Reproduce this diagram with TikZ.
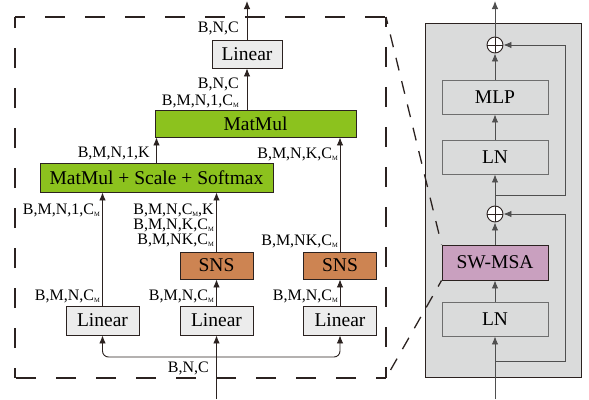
\documentclass[tikz,border=0pt]{standalone}
\usepackage{fontspec}
\setmainfont{Liberation Serif}
\usetikzlibrary{arrows.meta}
\usetikzlibrary{positioning}
\definecolor{BoxGray}{HTML}{ECECEC}
\definecolor{PanelGray}{HTML}{DADBDB}
\definecolor{LeafGreen}{HTML}{8CC21E}
\definecolor{ClayOrange}{HTML}{CD8452}
\definecolor{MauvePink}{HTML}{C9A0BF}
\definecolor{InkDark}{HTML}{2B2220}
\definecolor{LineGray}{HTML}{4F4F4F}
\definecolor{EdgeGray}{HTML}{6E6E6E}
% small subscript M on the channel size
\newcommand{\Cm}{C\raisebox{-0.3ex}{\fontsize{6.5}{6.5}\selectfont M}}

\begin{document}
\begin{tikzpicture}[x=1pt,y=-1pt,
    box/.style={draw=InkDark,line width=0.9pt,inner sep=0pt,
      font=\fontsize{19.5}{20}\selectfont},
    linbox/.style={box,fill=BoxGray,minimum width=73pt,minimum height=29pt},
    snsbox/.style={box,fill=ClayOrange,minimum width=73pt,minimum height=27pt},
    greenbox/.style={box,fill=LeafGreen},
    blockbox/.style={box,draw=EdgeGray,fill=PanelGray,minimum width=106pt,minimum height=34pt},
    dim/.style={font=\fontsize{16}{16}\selectfont,inner sep=0pt,anchor=east},
    flow/.style={draw=InkDark,line width=0.9pt,-{Latex[length=8pt,width=6.5pt]}},
    flowg/.style={flow,draw=LineGray},
    plus/.style={circle,draw=InkDark,fill=white,line width=0.9pt,minimum size=16pt,inner sep=0pt,
      path picture={\draw[line width=0.9pt]
        (path picture bounding box.north) -- (path picture bounding box.south)
        (path picture bounding box.west) -- (path picture bounding box.east);}},
  ]
  \useasboundingbox (0,0) rectangle (589,399);

  % ---- attention detail (left) ----
  \coordinate (ZoomTop) at (386,17);
  \coordinate (ZoomBot) at (386,378);
  \begin{scope}[InkDark,line width=1.4pt,dash pattern=on 20pt off 20pt,dash phase=10pt]
    \draw (15,17) -- (ZoomTop);
    \draw (ZoomTop) -- (ZoomBot);
    \draw (ZoomBot) -- (15,378);
    \draw (15,378) -- (15,17);
  \end{scope}

  \node[linbox] (LinQ) at (102.5,320.5) {Linear};
  \node[linbox] (LinK) at (216.5,320.5) {Linear};
  \node[linbox] (LinV) at (340,320.5) {Linear};
  \node[snsbox] (SnsK) at (216.5,265.5) {SNS};
  \node[snsbox] (SnsV) at (340,265.5) {SNS};
  \node[greenbox,minimum width=233pt,minimum height=29pt] (Score) at (156.5,177.5) {MatMul + Scale + Softmax};
  \node[greenbox,minimum width=201pt,minimum height=27pt] (MatMul) at (255.5,123.5) {MatMul};
  \node[box,fill=BoxGray,minimum width=70pt,minimum height=28pt] (LinOut) at (247,54) {Linear};

  \coordinate (InL) at (216.5,399);
  \coordinate (Split) at (216.5,357);
  \coordinate (OutL) at (247,1);

  \draw[flow] (InL) -- (LinK);
  \draw[flow,rounded corners=6pt] (Split) -| (LinQ);
  \draw[flow,rounded corners=6pt] (Split) -| (LinV);
  \draw[flow] (LinK) -- (SnsK);
  \draw[flow] (LinV) -- (SnsV);
  \draw[flow] (LinQ) -- (LinQ |- Score.south);
  \draw[flow] (SnsK) -- (SnsK |- Score.south);
  \draw[flow] (Score.north) -- (Score.north |- MatMul.south);
  \draw[flow] (SnsV) -- (SnsV |- MatMul.south);
  \draw[flow] (LinOut |- MatMul.north) -- (LinOut);
  \draw[flow] (LinOut) -- (OutL);

  % tensor shapes
  \node[dim] at (239,28) {B,N,C};
  \node[dim] at (239,84) {B,N,C};
  \node[dim] at (239,101) {B,M,N,1,\Cm};
  \node[dim] at (150,153) {B,M,N,1,K};
  \node[dim] at (338,154) {B,M,N,K,\Cm};
  \node[dim] at (100,210) {B,M,N,1,\Cm};
  \node[dim] at (214,210) {B,M,N,\Cm,K};
  \node[dim] at (214,225) {B,M,N,K,\Cm};
  \node[dim] at (214,240) {B,M,NK,\Cm};
  \node[dim] at (338,241) {B,M,NK,\Cm};
  \node[dim] at (100,296) {B,M,N,\Cm};
  \node[dim] at (214,296) {B,M,N,\Cm};
  \node[dim] at (338,296) {B,M,N,\Cm};
  \node[dim] at (209,368) {B,N,C};

  % ---- transformer block (right) ----
  \draw[InkDark,line width=1pt,fill=PanelGray] (425,23) rectangle (581,377);
  \node[blockbox] (LnA) at (495,319) {LN};
  \node[box,fill=MauvePink,minimum width=106pt,minimum height=35pt] (SwMsa) at (495,262.5) {SW-MSA};
  \node[plus] (PlusA) at (495,214) {};
  \node[blockbox] (LnB) at (495,157) {LN};
  \node[blockbox] (Mlp) at (495,97) {MLP};
  \node[plus] (PlusB) at (495,45) {};

  \coordinate (InR) at (495,399);
  \coordinate (OutR) at (495,1);
  \coordinate (SkipA) at (495,361);
  \coordinate (SkipB) at (495,195);

  \draw[flowg] (InR) -- (LnA);
  \draw[flowg] (LnA) -- (SwMsa);
  \draw[flowg] (SwMsa) -- (PlusA);
  \draw[flowg] (PlusA) -- (LnB);
  \draw[flowg] (LnB) -- (Mlp);
  \draw[flowg] (Mlp) -- (PlusB);
  \draw[flowg] (PlusB) -- (OutR);
  \draw[flowg] (SkipA) -- ++(70,0) |- (PlusA);
  \draw[flowg] (SkipB) -- ++(70,0) |- (PlusB);

  % zoom lines
  \draw[InkDark,line width=1.3pt,dash pattern=on 13pt off 11pt,dash phase=6pt] (ZoomTop) -- (SwMsa.north west);
  \draw[InkDark,line width=1.3pt,dash pattern=on 13pt off 11pt,dash phase=6pt] (SwMsa.south west) -- (ZoomBot);
\end{tikzpicture}
\end{document}
